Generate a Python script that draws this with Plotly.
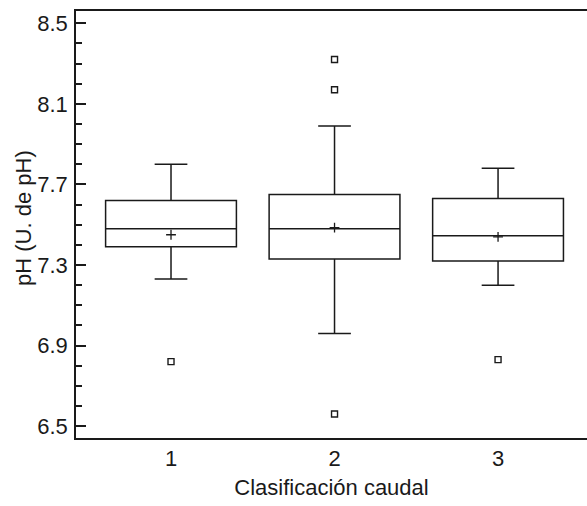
import plotly.graph_objects as go

# Flow classes and pH summary statistics per class
clases = [1, 2, 3]
q1 = [7.39, 7.33, 7.32]
mediana = [7.48, 7.48, 7.445]
q3 = [7.62, 7.65, 7.63]
bigote_inf = [7.23, 6.96, 7.20]
bigote_sup = [7.80, 7.99, 7.78]
media = [7.45, 7.485, 7.44]

# Outlying observations (class, pH)
atipicos_clase = [1, 2, 2, 2, 3]
atipicos_ph = [6.82, 8.32, 8.17, 6.56, 6.83]

y_ticks = [6.5, 6.9, 7.3, 7.7, 8.1, 8.5]
y_rango = [6.441, 8.561]
x_rango = [0.419, 3.544]

FONT = "Liberation Sans, Arial, sans-serif"
INK = "#1a1a1a"

fig = go.Figure()

fig.add_trace(go.Box(
    x=clases, q1=q1, median=mediana, q3=q3,
    lowerfence=bigote_inf, upperfence=bigote_sup,
    width=0.8, whiskerwidth=0.25, boxpoints=False,
    line=dict(color=INK, width=1.5), fillcolor="rgba(0,0,0,0)",
    hoverinfo="skip", showlegend=False,
))

fig.add_trace(go.Scatter(
    x=clases, y=media, mode="markers",
    marker=dict(symbol="cross-thin", size=7, line=dict(color=INK, width=1.3)),
    showlegend=False, hoverinfo="skip",
))

fig.add_trace(go.Scatter(
    x=atipicos_clase, y=atipicos_ph, mode="markers",
    marker=dict(symbol="square-open", size=6, color=INK, line=dict(width=1.4)),
    showlegend=False, hoverinfo="skip",
))

fig.update_layout(
    width=587, height=506,
    margin=dict(l=76, r=0, t=11, b=68),
    paper_bgcolor="white", plot_bgcolor="white",
    font=dict(family=FONT, color=INK, size=22),
    xaxis=dict(
        range=x_rango, tickmode="array", tickvals=clases,
        ticktext=[str(c) for c in clases], ticks="",
        showline=True, linecolor=INK, linewidth=1.5, mirror=True,
        showgrid=False, zeroline=False, ticklabelstandoff=0,
        title=dict(text="Clasificación caudal", font=dict(size=22), standoff=9),
    ),
    yaxis=dict(
        range=y_rango, tickmode="array", tickvals=y_ticks,
        ticktext=[f"{v:.1f}" for v in y_ticks],
        ticks="inside", ticklen=10, tickwidth=1.5, tickcolor=INK,
        ticklabelstandoff=2,
        minor=dict(ticks="inside", ticklen=6, tickwidth=1.5, tickcolor=INK,
                   tickmode="linear", tick0=6.5, dtick=0.1, showgrid=False),
        showline=True, linecolor=INK, linewidth=1.5, mirror=False,
        showgrid=False, zeroline=False,
    ),
    yaxis2=dict(
        overlaying="y", side="right", anchor="x",
        range=y_rango, tickmode="array", tickvals=y_ticks,
        ticks="inside", ticklen=3, tickwidth=1.5, tickcolor=INK,
        showticklabels=False, showline=False, showgrid=False, zeroline=False,
    ),
    annotations=[dict(
        text="pH (U. de pH)", textangle=-90, showarrow=False,
        xref="paper", yref="paper", x=-0.104, y=0.515,
        xanchor="center", yanchor="middle",
        font=dict(family=FONT, size=22, color=INK),
    )],
)

fig.write_html("out.html")
